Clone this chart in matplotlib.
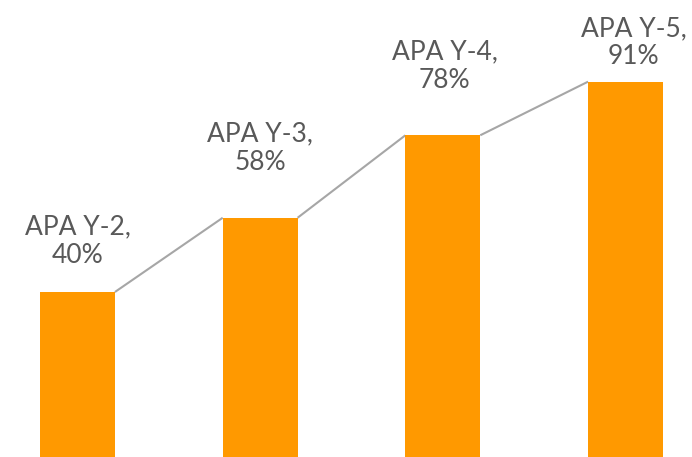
import matplotlib
matplotlib.use("Agg")
import matplotlib.pyplot as plt

categories = ["APA Y-2", "APA Y-3", "APA Y-4", "APA Y-5"]
values = [40, 58, 78, 91]

# label placement offsets (pixels): dx, dy above bar top to label block center
label_dx = [0, 0, 2, 8]
label_dy = [51, 70, 69, 39]

bar_w = 0.41
fig = plt.figure(figsize=(6.92, 4.57), dpi=100)
ax = fig.add_axes([0, 0, 1, 1])
x = list(range(len(values)))
ax.bar(x, values, width=bar_w, color="#FF9900", zorder=3)

# series lines connecting bar tops (right edge of one bar to left edge of next)
for i in range(len(values) - 1):
    ax.plot([x[i] + bar_w / 2, x[i + 1] - bar_w / 2], [values[i], values[i + 1]],
            color="#A6A6A6", lw=1.5, zorder=2, solid_capstyle="butt")

for i, (c, v) in enumerate(zip(categories, values)):
    ax.annotate(f"{c},\n{v}%", xy=(i, v), xytext=(label_dx[i], label_dy[i]),
                textcoords="offset pixels", ha="center", va="center",
                fontsize=19, color="#595959", family="Lato", linespacing=1.18)

ax.set_xlim(-0.424, 3.364)
ax.set_ylim(0, 110.8)
ax.axis("off")
fig.savefig("out.png", dpi=100)
